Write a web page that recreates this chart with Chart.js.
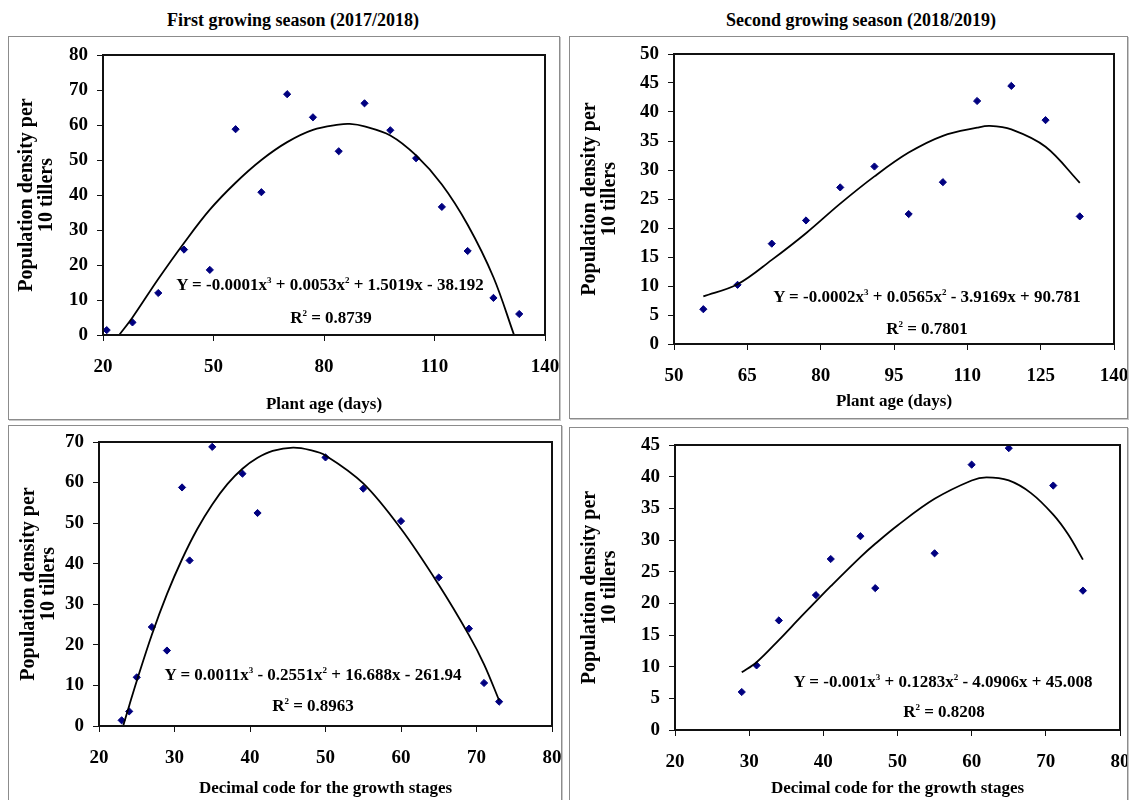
<!DOCTYPE html>
<html>
<head>
<meta charset="utf-8">
<script src="https://cdn.jsdelivr.net/npm/chart.js@4.4.1/dist/chart.umd.min.js"></script>
<style>
  body { margin: 0; width: 1132px; height: 800px; overflow: hidden; background: #fff;
         font-family: 'Liberation Serif', 'Times New Roman', serif; position: relative; }
  .title { position: absolute; font-weight: bold; font-size: 18px; white-space: nowrap;
           transform: translate(-50%, -50%); }
  .frame { position: absolute; box-sizing: border-box; border: 1px solid #8c8c8c;
           box-shadow: 1px 1px 0 #c8c8c8; }
  .frame canvas { position: absolute; left: 0; top: 0; }
  .eq { position: absolute; font-weight: bold; font-size: 17px; line-height: 20px; white-space: nowrap;
        transform: translateX(-50%); }
  .eq sup { font-size: 9px; position: relative; top: -7px; vertical-align: baseline; }
</style>
</head>
<body>
<div class="title" style="left:293px; top:20px">First growing season (2017/2018)</div>
<div class="title" style="left:861px; top:20px">Second growing season (2018/2019)</div>

<div class="frame" style="left:8px; top:36px; width:552px; height:384px"><canvas id="c1" width="550" height="382"></canvas></div>
<div class="frame" style="left:569px; top:36px; width:559px; height:383px"><canvas id="c2" width="557" height="381"></canvas></div>
<div class="frame" style="left:8px; top:425px; width:554px; height:378px"><canvas id="c3" width="552" height="376"></canvas></div>
<div class="frame" style="left:569px; top:427px; width:559px; height:376px"><canvas id="c4" width="557" height="374"></canvas></div>

<div class="eq" style="left:330px; top:275px">Y = -0.0001x<sup>3</sup> + 0.0053x<sup>2</sup> + 1.5019x - 38.192</div>
<div class="eq" style="left:331px; top:308px">R<sup>2</sup> = 0.8739</div>
<div class="eq" style="left:927px; top:287px">Y = -0.0002x<sup>3</sup> + 0.0565x<sup>2</sup> - 3.9169x + 90.781</div>
<div class="eq" style="left:927px; top:319px">R<sup>2</sup> = 0.7801</div>
<div class="eq" style="left:313px; top:665px">Y = 0.0011x<sup>3</sup> - 0.2551x<sup>2</sup> + 16.688x - 261.94</div>
<div class="eq" style="left:313px; top:696px">R<sup>2</sup> = 0.8963</div>
<div class="eq" style="left:943px; top:672px">Y = -0.001x<sup>3</sup> + 0.1283x<sup>2</sup> - 4.0906x + 45.008</div>
<div class="eq" style="left:944px; top:702px">R<sup>2</sup> = 0.8208</div>

<script>
// first season (2017/2018): plant age in days and decimal growth-stage code
const ageDays1 = [21, 28, 35, 42, 49, 56, 63, 70, 77, 84, 91, 98, 105, 112, 119, 126, 133];
const stage1 = [23, 24, 25, 27, 29, 31, 32, 35, 39, 41, 50, 55, 60, 65, 69, 71, 73];
const density1 = [1.4, 3.6, 12.0, 24.4, 18.6, 58.8, 40.8, 68.8, 62.2, 52.5, 66.2, 58.5, 50.5, 36.6, 24.0, 10.6, 6.0];

// second season (2018/2019)
const ageDays2 = [56, 63, 70, 77, 84, 91, 98, 105, 112, 119, 126, 133];
const stage2 = [29, 31, 34, 39, 41, 45, 47, 55, 60, 65, 71, 75];
const density2 = [6.0, 10.2, 17.3, 21.3, 27.0, 30.6, 22.4, 27.9, 41.9, 44.5, 38.6, 22.0];

// polynomial trend lines
const trend1X = [24.4, 28, 35, 42, 49, 56, 63, 70, 77, 84, 87, 91, 98, 105, 112, 119, 126, 131.6];
const trend1Y = [0, 5.0, 16.0, 26.3, 35.8, 43.5, 50.0, 55.1, 58.6, 60.1, 60.3, 59.6, 57.0, 51.3, 43.0, 31.5, 16.5, 0];
const trend2X = [56, 63, 70, 77, 84, 91, 98, 105, 112, 114.6, 119, 126, 133];
const trend2Y = [8.2, 10.3, 14.5, 19.1, 24.2, 28.9, 33.0, 35.9, 37.3, 37.6, 37.0, 34.0, 27.8];
const trend3X = [23.2, 24, 25, 27, 29, 31, 33, 35, 37, 39, 41, 43, 45.7, 48, 50, 55, 60, 65, 69, 71, 73];
const trend3Y = [0, 5.0, 11.1, 22.5, 32.5, 41.1, 48.5, 54.6, 59.6, 63.4, 66.1, 67.8, 68.6, 68.0, 66.7, 59.8, 48.6, 34.8, 22.4, 15.2, 6.3];
const trend4X = [29, 31, 34, 37, 39, 41, 45, 47, 50, 55, 60, 62, 65, 68, 71, 73, 75];
const trend4Y = [9.1, 10.7, 14.2, 17.9, 20.3, 22.7, 27.3, 29.4, 32.3, 36.5, 39.4, 39.9, 39.4, 37.4, 34.0, 30.9, 26.9];

const yTitle = ['Population density per', '10 tillers'];
const FONT = "'Liberation Serif', 'Times New Roman', serif";

const plotBox = {
  id: 'plotBox',
  afterDraw(chart) {
    const { ctx, chartArea: a } = chart;
    ctx.save();
    ctx.strokeStyle = '#111';
    ctx.lineWidth = 2;
    ctx.strokeRect(a.left, a.top, a.right - a.left, a.bottom - a.top);
    ctx.restore();
  }
};

function pairs(xs, ys) {
  return xs.map((x, i) => ({ x, y: ys[i] }));
}

function makePanel(id, p) {
  new Chart(document.getElementById(id), {
    type: 'scatter',
    data: {
      datasets: [
        {
          data: pairs(p.tx, p.ty), showLine: true, borderColor: '#000', borderWidth: 1.8,
          pointRadius: 0, tension: 0.35, clip: false
        },
        {
          data: pairs(p.x, p.y), pointStyle: 'rectRot', pointRadius: 3.6,
          backgroundColor: '#000080', borderColor: '#000080', borderWidth: 1, clip: false
        }
      ]
    },
    options: {
      responsive: false,
      animation: false,
      devicePixelRatio: 1,
      layout: { padding: { left: 0, top: p.padTop, right: p.padRight, bottom: 0 } },
      plugins: { legend: { display: false }, tooltip: { enabled: false } },
      scales: {
        x: {
          type: 'linear', min: p.xMin, max: p.xMax,
          ticks: { stepSize: p.xStep, color: '#000', padding: 15, font: { family: FONT, size: 19, weight: 'bold' } },
          grid: { drawOnChartArea: false, drawTicks: true, tickLength: 6, color: '#111' },
          border: { display: true, color: '#111', width: 2 },
          title: { display: true, text: p.xTitle, color: '#000', padding: { top: 0, bottom: p.xTitlePad },
                   font: { family: FONT, size: 17, weight: 'bold' } },
          afterFit(s) { s.height = p.xAxisH; s.paddingLeft = 0; s.paddingRight = 0; }
        },
        y: {
          type: 'linear', min: 0, max: p.yMax,
          ticks: { stepSize: p.yStep, color: '#000', padding: 9, font: { family: FONT, size: 19, weight: 'bold' } },
          grid: { drawOnChartArea: false, drawTicks: true, tickLength: 6, color: '#111' },
          border: { display: true, color: '#111', width: 2 },
          title: { display: true, text: yTitle, color: '#000', padding: { top: p.yTitlePad, bottom: 0 },
                   font: { family: FONT, size: 20, weight: 'bold', lineHeight: 1.0 } },
          afterFit(s) { s.width = p.yAxisW; s.paddingTop = 0; s.paddingBottom = 0; }
        }
      }
    },
    plugins: [plotBox]
  });
}

makePanel('c1', {
  x: ageDays1, y: density1, tx: trend1X, ty: trend1Y,
  xMin: 20, xMax: 140, xStep: 30, yMax: 80, yStep: 10, xTitle: 'Plant age (days)',
  padTop: 18, padRight: 14, yAxisW: 94, xAxisH: 84, xTitlePad: 4, yTitlePad: 8
});
makePanel('c2', {
  x: ageDays2, y: density2, tx: trend2X, ty: trend2Y,
  xMin: 50, xMax: 140, xStep: 15, yMax: 50, yStep: 5, xTitle: 'Plant age (days)',
  padTop: 17, padRight: 13, yAxisW: 104, xAxisH: 74, xTitlePad: 6, yTitlePad: 10
});
makePanel('c3', {
  x: stage1, y: density1, tx: trend3X, ty: trend3Y,
  xMin: 20, xMax: 80, xStep: 10, yMax: 70, yStep: 10, xTitle: 'Decimal code for the growth stages',
  padTop: 16, padRight: 9, yAxisW: 90, xAxisH: 76, xTitlePad: 3, yTitlePad: 10
});
makePanel('c4', {
  x: stage2, y: density2, tx: trend4X, ty: trend4Y,
  xMin: 20, xMax: 80, xStep: 10, yMax: 45, yStep: 5, xTitle: 'Decimal code for the growth stages',
  padTop: 17, padRight: 7, yAxisW: 105, xAxisH: 72, xTitlePad: 3, yTitlePad: 10
});
</script>
</body>
</html>
